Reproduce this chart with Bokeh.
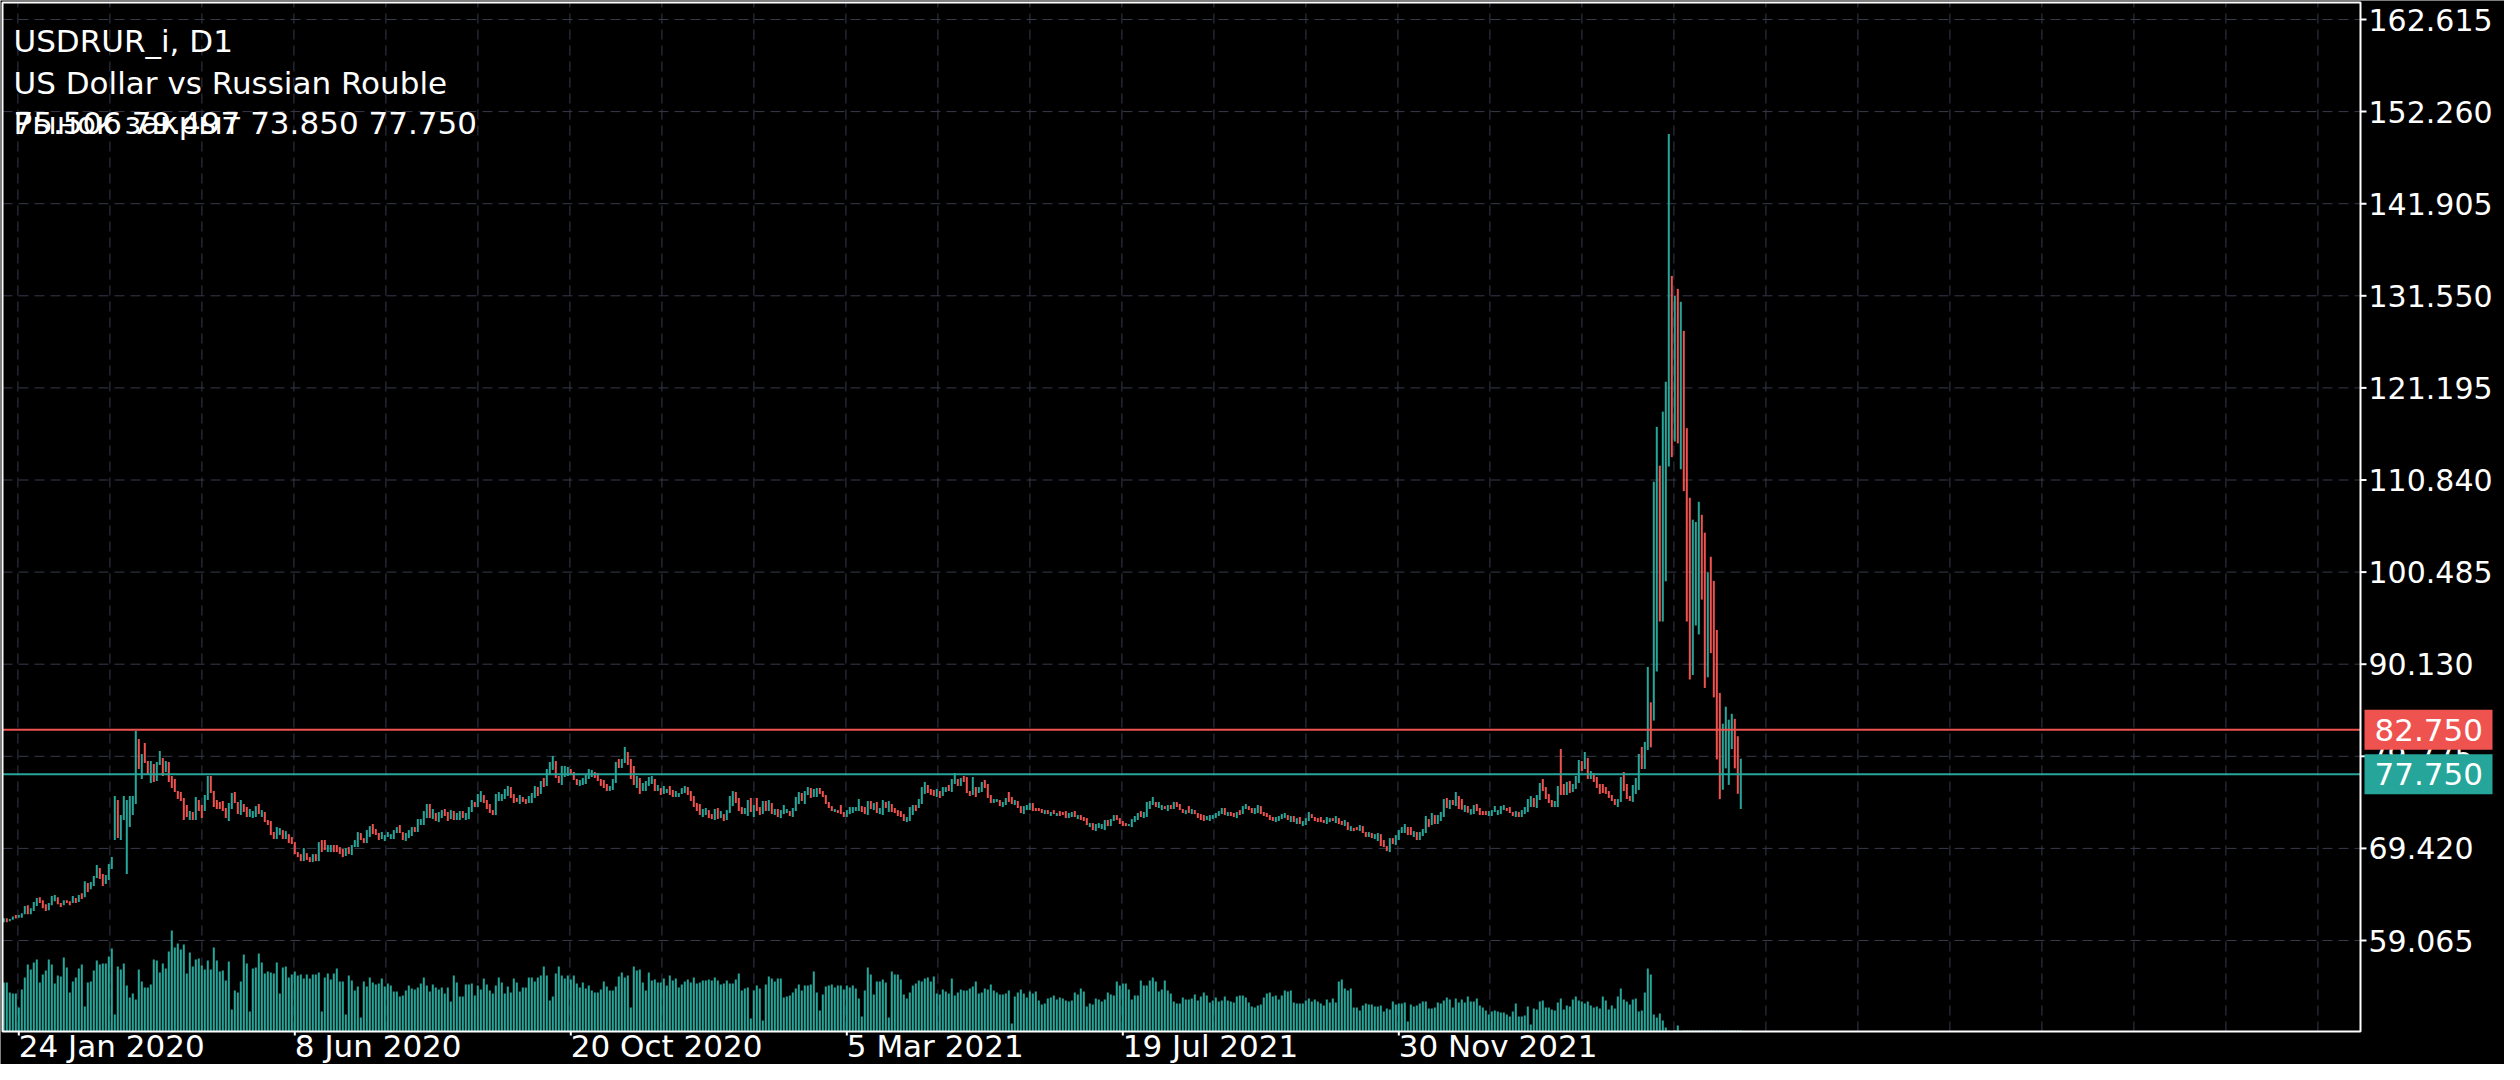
from bokeh.plotting import figure
from bokeh.models import ColumnDataSource, Range1d
from bokeh.core.properties import value
from bokeh.embed import file_html
from bokeh.resources import INLINE

# ---------------- data ----------------
symbol_title = "USDRUR_i, D1"
symbol_desc = "US Dollar vs Russian Rouble"
status_text = "Рынок закрыт"
ohlc_text = "75.506 79.497 73.850 77.750"

date_labels = ["24 Jan 2020", "8 Jun 2020", "20 Oct 2020", "5 Mar 2021", "19 Jul 2021", "30 Nov 2021"]
date_bars = [5, 97, 189, 281, 373, 465]
price_ticks = [59.065, 69.420, 79.775, 90.130, 100.485, 110.840, 121.195, 131.550, 141.905, 152.260, 162.615]
price_tick_labels = ["59.065", "69.420", "79.775", "90.130", "100.485", "110.840",
                     "121.195", "131.550", "141.905", "152.260", "162.615"]
ask_level = 82.750
bid_level = 77.750
level_labels = ["82.750", "77.750"]

opens = [
    61.13, 61.58, 61.24, 61.39, 61.92, 61.62, 61.62, 62.03, 63.04, 62.03,
    62.37, 62.93, 63.94, 63.60, 63.15, 62.48, 63.04, 63.49, 63.94, 63.27,
    63.04, 63.60, 63.49, 63.27, 63.83, 63.38, 64.39, 63.94, 65.52, 64.84,
    65.18, 66.08, 67.21, 66.53, 65.41, 65.86, 67.09, 70.36, 74.86, 70.36,
    72.61, 66.53, 71.82, 73.17, 74.41, 81.73, 77.22, 81.28, 79.25, 76.77,
    78.91, 77.00, 78.80, 79.59, 78.01, 79.14, 77.56, 77.22, 75.87, 75.76,
    75.09, 74.30, 72.61, 73.51, 72.61, 74.86, 74.30, 73.62, 74.86, 77.56,
    75.87, 74.86, 74.64, 74.75, 73.96, 72.50, 73.85, 75.76, 74.64, 73.17,
    74.41, 74.07, 72.95, 72.83, 72.95, 74.41, 72.95, 73.51, 72.61, 72.50,
    71.26, 70.47, 70.92, 71.48, 70.47, 71.03,
    70.70, 70.13, 69.01, 68.78, 67.99, 68.89, 68.44, 67.88, 68.78, 67.99,
    70.36, 70.36, 69.01, 69.01, 69.80, 69.80, 69.57, 69.35, 68.56, 69.57,
    68.67, 69.57, 69.57, 71.15, 70.58, 70.02, 70.70, 72.16, 71.60, 71.15,
    70.47, 70.25, 70.70, 70.47, 70.47, 71.15, 72.05, 71.26, 70.25, 70.58,
    70.81, 71.82, 71.26, 72.05, 72.05, 72.83, 74.41, 72.72, 73.40, 72.38,
    72.83, 73.85, 73.51, 72.72, 73.62, 72.61, 72.61, 73.62, 72.61, 72.72,
    73.51, 74.64, 74.07, 74.64, 75.42, 74.86, 74.41, 73.73, 73.17, 74.75,
    74.75, 74.97, 75.31, 76.32, 75.54, 75.09, 74.41, 75.20, 74.97, 74.52,
    74.52, 75.09, 76.32, 75.54, 77.34, 76.44, 77.67, 78.24, 79.25, 77.56,
    76.55, 77.45, 77.56, 78.35, 78.01,
    77.22, 76.44, 76.55, 76.66, 77.22, 77.45, 78.01, 77.90, 77.22, 77.11,
    76.66, 75.87, 75.99, 76.77, 79.47, 78.46, 79.02, 80.26, 79.47, 78.69,
    76.21, 77.34, 75.87, 75.87, 76.44, 76.66, 77.22, 75.87, 76.21, 75.54,
    75.65, 76.44, 75.99, 75.20, 75.20, 75.54, 75.65, 76.32, 75.87, 75.31,
    74.52, 74.41, 72.95, 73.17, 73.73, 73.28, 72.61, 73.96, 72.83, 73.28,
    72.61, 73.40, 74.18, 75.76, 75.09, 74.07, 73.28, 73.06, 75.09, 72.95,
    75.09, 74.07, 73.28, 74.75, 73.62, 74.52, 73.17, 73.85, 72.83, 73.28,
    73.40, 73.62, 72.95, 73.62, 74.41, 75.65, 74.41, 75.42, 76.21, 75.20,
    75.20, 76.21, 75.87, 75.42, 74.64, 74.18, 73.51, 73.73, 74.30, 73.51,
    72.95, 73.28, 73.40, 73.62, 73.62,
    74.18, 74.07, 73.17, 74.75, 73.73, 74.64, 73.28, 73.17, 74.64, 73.51,
    74.41, 73.96, 73.73, 73.62, 73.28, 72.38, 72.50, 73.17, 74.30, 73.96,
    74.41, 75.54, 76.55, 76.10, 75.99, 75.20, 75.87, 75.31, 75.76, 76.55,
    75.76, 76.66, 77.22, 76.44, 77.56, 77.45, 75.87, 75.42, 76.32, 75.65,
    75.76, 77.11, 76.66, 75.42, 74.52, 74.64, 74.86, 74.07, 74.30, 75.76,
    75.20, 74.30, 74.75, 74.18, 73.28, 73.73, 73.73, 74.52, 73.96, 73.96,
    73.85, 73.28, 73.73, 73.06, 73.73, 73.06, 73.62, 73.51, 73.62, 72.83,
    72.95, 73.62, 72.72, 73.17, 72.95, 72.83, 71.82, 72.27, 71.37, 71.71,
    71.60, 71.48, 72.61, 71.93, 72.50, 73.17, 72.83, 72.50, 72.27, 71.93,
    71.82, 72.38, 72.61, 73.62, 72.83,
    72.95, 73.85, 74.30, 74.64, 73.96, 73.73, 74.18, 73.62, 74.30, 73.85,
    74.64, 74.41, 73.85, 73.28, 74.18, 73.28, 73.73, 73.40, 73.28, 73.17,
    72.61, 72.50, 72.72, 72.83, 73.06, 73.28, 73.96, 73.06, 73.51, 73.40,
    72.83, 73.73, 73.28, 73.85, 74.18, 73.96, 73.28, 73.40, 74.18, 73.51,
    73.40, 73.17, 72.95, 72.38, 72.50, 72.72, 72.83, 73.17, 72.38, 73.06,
    72.16, 72.95, 71.93, 72.05, 72.50, 73.28, 72.95, 72.83, 72.95, 72.61,
    72.16, 72.38, 72.83, 72.27, 72.83, 72.50, 71.93, 72.38, 71.37, 71.71,
    71.82, 71.37, 71.93, 71.26, 70.70, 71.15, 70.47, 70.25, 71.03, 70.36,
    69.68, 69.01, 70.58, 69.80, 70.36, 71.15, 71.15, 71.82, 71.82, 70.70,
    71.26, 70.36, 70.81, 71.15, 72.72,
    72.05, 73.17, 72.16, 72.50, 72.95, 75.09, 73.85, 74.86, 74.19, 75.31,
    74.97, 73.51, 74.19, 73.21, 73.28, 74.41, 73.96, 73.62, 73.62, 73.06,
    73.06, 73.51, 73.17, 73.28, 73.73, 73.96, 74.07, 73.51, 72.95, 73.51,
    72.95, 73.28, 73.51, 74.07, 75.09, 73.96, 74.86, 77.22, 76.32, 75.54,
    74.86, 74.07, 74.07, 80.60, 76.66, 75.42, 77.00, 75.76, 76.10, 76.77,
    79.25, 78.35, 79.59, 77.22, 77.90, 77.45, 76.66, 76.66, 76.32, 75.87,
    75.42, 74.97, 74.07, 74.64, 78.01, 76.66, 75.31, 74.64, 75.54, 75.99,
    80.83, 78.35,
    80.48, 85.85, 83.79, 89.31, 112.45, 94.93, 99.45, 112.35, 133.79, 115.16,
    132.33, 112.05, 127.61, 116.67, 108.84, 88.91, 94.48, 93.48, 106.93, 104.92,
    88.66, 102.21, 99.50, 93.98, 86.90, 76.01, 78.42, 76.56, 80.58, 83.99,
    82.03, 73.85,
]

closes = [
    61.58, 61.13, 61.47, 61.77, 61.54, 61.92, 62.14, 62.93, 62.03, 62.70,
    63.38, 63.83, 63.27, 62.70, 62.37, 63.27, 64.06, 64.17, 63.15, 62.82,
    63.60, 63.27, 63.04, 64.06, 63.27, 64.17, 63.72, 65.74, 64.51, 65.63,
    66.31, 67.54, 65.97, 65.18, 66.42, 67.66, 68.44, 75.31, 70.58, 73.17,
    75.31, 74.86, 75.31, 75.31, 82.63, 78.35, 80.04, 79.02, 77.79, 79.25,
    76.89, 79.14, 80.38, 77.56, 79.25, 76.89, 76.21, 75.76, 74.97, 74.75,
    72.61, 72.95, 73.62, 72.61, 75.20, 73.62, 72.83, 75.42, 77.56, 75.65,
    74.07, 73.85, 73.85, 73.62, 72.83, 74.52, 75.65, 74.52, 73.28, 74.86,
    73.51, 72.95, 73.85, 73.62, 74.18, 73.28, 73.73, 72.38, 72.05, 70.92,
    70.47, 71.82, 71.71, 70.47, 71.37, 70.02,
    69.91, 68.78, 68.44, 67.99, 69.46, 68.11, 67.88, 68.78, 67.99, 70.13,
    69.01, 69.23, 69.80, 69.80, 69.01, 69.01, 68.78, 68.44, 69.46, 68.78,
    69.80, 70.36, 71.26, 70.36, 70.02, 71.48, 71.93, 71.03, 70.92, 70.36,
    71.26, 70.92, 71.26, 71.03, 71.48, 71.82, 71.15, 70.36, 71.15, 71.48,
    71.82, 71.26, 72.72, 72.72, 73.62, 74.41, 72.83, 73.85, 72.50, 73.51,
    73.73, 73.06, 72.50, 73.73, 72.61, 73.40, 73.62, 72.83, 73.40, 74.07,
    74.86, 74.07, 75.54, 75.87, 74.52, 73.85, 73.40, 73.17, 75.54, 75.76,
    75.54, 76.10, 76.44, 75.09, 74.52, 74.64, 75.42, 74.64, 74.41, 75.31,
    75.65, 76.44, 75.31, 77.00, 76.32, 78.35, 79.14, 79.81, 77.34, 76.77,
    78.69, 78.69, 78.57, 77.67, 77.11,
    76.55, 77.11, 77.34, 77.79, 78.35, 78.24, 77.34, 77.00, 76.44, 76.21,
    75.87, 76.44, 77.22, 79.14, 78.46, 79.47, 80.83, 78.80, 77.22, 76.55,
    77.56, 75.54, 76.77, 77.00, 77.45, 77.56, 75.87, 76.55, 75.42, 76.44,
    76.10, 75.42, 75.20, 75.87, 75.65, 76.21, 76.44, 75.42, 74.75, 74.07,
    73.62, 73.17, 73.85, 73.96, 72.83, 72.72, 73.85, 72.72, 73.62, 72.50,
    73.73, 75.31, 75.87, 74.52, 73.62, 73.28, 73.96, 74.86, 73.51, 74.30,
    73.62, 73.17, 74.75, 73.62, 74.86, 73.28, 73.85, 72.95, 73.73, 74.30,
    73.85, 73.06, 73.96, 75.20, 75.76, 74.75, 75.87, 76.32, 75.09, 76.10,
    76.21, 75.54, 75.20, 74.41, 73.96, 73.62, 73.85, 73.40, 73.28, 72.95,
    73.73, 74.07, 74.07, 74.07, 74.97,
    73.51, 73.28, 74.75, 73.85, 74.52, 73.40, 73.96, 74.86, 73.96, 74.75,
    73.51, 73.40, 73.06, 72.95, 72.50, 72.95, 74.07, 74.30, 73.62, 74.97,
    76.32, 76.89, 75.65, 75.42, 75.31, 76.10, 75.09, 76.32, 76.32, 75.87,
    77.22, 77.90, 76.44, 77.34, 76.89, 75.65, 75.31, 77.45, 75.20, 76.32,
    76.89, 76.21, 75.09, 74.52, 74.97, 74.97, 74.18, 74.64, 75.09, 74.64,
    74.41, 74.86, 73.96, 73.40, 74.18, 74.30, 74.52, 73.62, 73.62, 73.62,
    73.40, 73.73, 73.28, 73.51, 73.28, 73.40, 73.06, 73.17, 72.83, 73.40,
    73.51, 72.95, 73.17, 72.61, 72.50, 72.05, 72.27, 71.48, 72.16, 72.27,
    72.16, 72.61, 71.93, 72.72, 73.17, 72.61, 72.16, 71.93, 71.93, 72.16,
    72.72, 73.06, 73.40, 72.95, 73.51,
    74.64, 74.75, 75.20, 74.07, 74.64, 74.30, 73.85, 74.30, 73.85, 74.64,
    74.07, 73.73, 73.40, 73.73, 73.40, 73.85, 73.28, 72.83, 72.61, 72.50,
    73.06, 73.17, 73.17, 73.40, 73.62, 73.96, 73.17, 73.51, 73.06, 72.95,
    73.51, 73.17, 74.18, 74.41, 73.73, 73.40, 73.96, 74.30, 73.28, 73.06,
    72.95, 72.61, 72.50, 72.95, 73.06, 73.28, 73.40, 72.61, 73.06, 72.38,
    72.83, 72.16, 72.50, 72.83, 73.51, 72.83, 72.50, 72.38, 72.38, 72.27,
    72.95, 72.83, 72.50, 73.06, 72.16, 72.05, 72.61, 71.48, 71.93, 71.37,
    71.48, 72.05, 71.15, 70.70, 71.26, 70.58, 71.03, 71.15, 69.68, 69.57,
    69.12, 70.58, 69.91, 70.92, 71.48, 71.82, 72.16, 70.92, 70.92, 71.37,
    70.36, 71.26, 71.60, 73.06, 71.82,
    73.40, 72.16, 73.17, 73.51, 74.97, 73.96, 74.86, 74.30, 75.76, 73.85,
    73.77, 74.30, 73.43, 73.85, 74.30, 73.62, 73.17, 73.17, 73.17, 73.62,
    73.73, 74.19, 73.73, 74.19, 74.30, 73.62, 73.40, 73.06, 73.62, 72.95,
    73.73, 74.07, 74.97, 75.31, 74.07, 75.42, 76.77, 75.87, 74.97, 74.52,
    74.07, 74.75, 76.44, 75.42, 75.42, 76.89, 75.65, 76.66, 77.56, 79.36,
    78.12, 80.26, 77.22, 78.12, 76.89, 76.21, 75.54, 75.65, 75.54, 75.09,
    74.75, 74.30, 74.97, 77.45, 75.87, 74.97, 74.75, 76.55, 77.34, 80.04,
    78.35, 81.39,
    89.82, 80.78, 110.65, 116.82, 94.93, 118.53, 121.89, 149.75, 113.41, 131.53,
    114.96, 130.88, 109.59, 94.93, 88.41, 106.38, 106.13, 108.39, 97.39, 87.46,
    100.46, 91.37, 86.40, 79.42, 74.96, 83.44, 85.35, 83.89, 84.55, 78.42,
    75.56, 79.50,
]

volumes = [
    49, 49, 39, 38, 38, 24, 42, 54, 67, 62, 69, 72, 49, 57, 61, 72, 67, 48, 56, 55,
    74, 64, 39, 50, 54, 63, 67, 25, 49, 50, 61, 71, 67, 68, 68, 75, 83, 17, 65, 62,
    68, 46, 34, 38, 32, 62, 50, 44, 44, 47, 72, 71, 59, 68, 63, 80, 101, 84, 88, 82,
    87, 58, 79, 65, 72, 73, 66, 62, 71, 62, 84, 71, 60, 61, 51, 70, 22, 41, 39, 50,
    77, 68, 20, 63, 64, 78, 69, 58, 60, 59, 58, 69, 38, 64, 65, 54,
    57, 60, 56, 57, 53, 57, 53, 57, 57, 59, 20, 54, 58, 52, 58, 63, 50, 50, 17, 56,
    51, 41, 45, 14, 50, 45, 54, 49, 47, 48, 53, 45, 48, 46, 40, 40, 35, 36, 41, 46,
    43, 42, 44, 48, 54, 46, 40, 47, 44, 42, 44, 38, 44, 30, 56, 49, 35, 35, 47, 47,
    48, 36, 46, 42, 53, 47, 41, 38, 46, 54, 49, 38, 45, 39, 53, 49, 40, 44, 44, 54,
    54, 50, 54, 56, 65, 56, 31, 35, 58, 65, 56, 53, 56, 52, 56,
    48, 44, 49, 43, 46, 41, 39, 39, 42, 50, 45, 41, 41, 45, 55, 59, 54, 56, 24, 65,
    61, 62, 49, 41, 59, 51, 52, 49, 49, 53, 46, 56, 51, 53, 44, 47, 50, 52, 49, 54,
    48, 49, 51, 51, 52, 51, 54, 51, 47, 48, 51, 48, 48, 52, 58, 41, 43, 44, 13, 41,
    46, 43, 11, 47, 55, 53, 50, 53, 53, 34, 35, 36, 39, 43, 47, 41, 46, 46, 47, 60,
    39, 21, 37, 45, 46, 47, 44, 46, 46, 42, 46, 44, 46, 43, 33,
    15, 41, 64, 57, 37, 50, 50, 52, 49, 14, 60, 57, 57, 52, 37, 33, 39, 46, 48, 51,
    50, 53, 54, 50, 55, 38, 37, 42, 40, 38, 53, 36, 39, 42, 41, 41, 43, 45, 50, 38,
    39, 43, 42, 47, 41, 39, 37, 37, 38, 41, 8, 35, 39, 42, 38, 34, 40, 38, 40, 31,
    27, 28, 33, 34, 36, 32, 34, 33, 31, 30, 31, 39, 37, 43, 40, 25, 28, 27, 33, 32,
    30, 32, 39, 37, 36, 50, 46, 48, 48, 42, 32, 36, 36, 51, 46,
    46, 51, 54, 50, 40, 42, 51, 41, 38, 30, 28, 28, 34, 32, 32, 33, 37, 31, 35, 39,
    36, 29, 31, 34, 30, 31, 35, 31, 30, 29, 35, 36, 36, 34, 29, 25, 24, 26, 27, 34,
    38, 39, 35, 36, 32, 36, 41, 40, 41, 29, 28, 28, 28, 31, 33, 30, 32, 30, 28, 26,
    32, 29, 33, 29, 50, 52, 43, 41, 43, 24, 24, 21, 26, 28, 27, 27, 25, 25, 26, 20,
    23, 22, 30, 27, 28, 28, 29, 10, 27, 25, 26, 28, 30, 30, 23,
    23, 24, 29, 28, 31, 34, 32, 24, 33, 29, 32, 29, 35, 30, 30, 33, 26, 24, 21, 17,
    20, 21, 20, 19, 19, 17, 15, 20, 28, 15, 15, 16, 25, 7, 23, 22, 30, 31, 24, 24,
    22, 21, 29, 33, 22, 26, 25, 32, 35, 31, 30, 28, 30, 26, 24, 25, 23, 35, 31, 22,
    26, 23, 35, 43, 32, 30, 27, 32, 33, 20, 21, 39, 63, 57, 17, 14, 18, 11, 4, 1,
    0.5, 1, 6, 0.5, 1, 1, 1, 1, 1, 1, 1, 1, 1, 1, 1, 1, 1, 1, 1, 1,
    1, 1, 1, 1,
]

# ---------------- style / layout ----------------
TEAL = "#26a69a"
RED = "#ef5350"
GRID = "#363a4a"
FONT = value("DejaVu Sans")
W, H = 2504, 1064
BAR_PX = 3.0            # pixels per bar
BAR0_PX = 3.3           # pixel of bar 0
PX_PER_UNIT = 92.1 / 10.355
TOP_VAL, TOP_PX = 162.615, 19.0


def xpx(px):            # canvas pixel -> bar coordinate
    return (px - BAR0_PX) / BAR_PX


def ypx(py):            # canvas pixel -> price coordinate
    return TOP_VAL - (py - TOP_PX) / PX_PER_UNIT


def dy(px):
    return px / PX_PER_UNIT


def dx(px):
    return px / BAR_PX


# chart pane in data coordinates
CL, CR = xpx(2), xpx(2360)
CT, CB = ypx(2), ypx(1031)

p = figure(width=W, height=H,
           x_range=Range1d(xpx(0), xpx(W)), y_range=Range1d(ypx(H), ypx(0)),
           output_backend="svg", toolbar_location=None,
           background_fill_color="#000000", border_fill_color="#000000",
           min_border=0, outline_line_color=None)
p.axis.visible = False
p.grid.visible = False
# volume scale: one unit per pixel, zero at the pane bottom
p.extra_y_ranges = {"vol": Range1d(1031 - H, 1031)}

# grid
grid_x = [date_bars[0] - 0.3 + m * (92.0 / 3.0) for m in range(26)]
p.segment(x0=grid_x, x1=grid_x, y0=[CB] * len(grid_x), y1=[CT] * len(grid_x),
          line_color=GRID, line_width=1, line_dash="10 6")
p.segment(x0=[CL] * len(price_ticks), x1=[CR] * len(price_ticks), y0=price_ticks, y1=price_ticks,
          line_color=GRID, line_width=1, line_dash="10 6")

# volume
n = min(len(opens), len(closes))
idx = list(range(n))
vsrc = ColumnDataSource(dict(x=list(range(len(volumes))), top=volumes))
p.vbar(x="x", top="top", bottom=0, width=0.67, source=vsrc,
       fill_color=TEAL, line_color=None, y_range_name="vol")

# candles
src = ColumnDataSource(dict(
    x=idx,
    top=[max(opens[i], closes[i]) for i in idx],
    bottom=[min(opens[i], closes[i]) for i in idx],
    color=[TEAL if closes[i] >= opens[i] else RED for i in idx],
))
p.vbar(x="x", top="top", bottom="bottom", width=0.67, source=src,
       fill_color="color", line_color=None)

# price levels
p.segment(x0=[CL, CL], x1=[CR, CR], y0=[ask_level, bid_level], y1=[ask_level, bid_level],
          line_color=[RED, TEAL], line_width=2)

# pane border
p.quad(left=CL, right=CR, bottom=CB, top=CT, fill_color=None, line_color="white", line_width=2)

# price scale ticks and labels
p.segment(x0=[CR] * len(price_ticks), x1=[CR + dx(6)] * len(price_ticks),
          y0=price_ticks, y1=price_ticks, line_color="white", line_width=2)
p.text(x=[CR + dx(8)] * len(price_ticks), y=price_ticks, text=price_tick_labels,
       text_align="left", text_baseline="middle", text_color="white",
       text_font=FONT, text_font_size="30px")

# time scale ticks and labels
p.segment(x0=date_bars, x1=date_bars, y0=[CB] * len(date_bars), y1=[CB - dy(4)] * len(date_bars),
          line_color="white", line_width=2)
p.text(x=date_bars, y=[ypx(1045)] * len(date_bars), text=date_labels,
       text_align="left", text_baseline="middle", text_color="white",
       text_font=FONT, text_font_size="31px")

# price badges
levels = [ask_level, bid_level]
p.quad(left=[xpx(2364)] * 2, right=[xpx(2492)] * 2,
       bottom=[lv - dy(20) for lv in levels], top=[lv + dy(20) for lv in levels],
       fill_color=[RED, TEAL], line_color=None)
p.text(x=[xpx(2374)] * 2, y=levels, text=level_labels,
       text_align="left", text_baseline="middle", text_color="white",
       text_font=FONT, text_font_size="31px")

# header texts
p.text(x=[xpx(13)] * 4, y=[ypx(40), ypx(82), ypx(122), ypx(122)],
       text=[symbol_title, symbol_desc, status_text, ohlc_text],
       text_align="left", text_baseline="middle", text_color="white",
       text_font=FONT, text_font_size="31px")

html = file_html(p, INLINE)
html = html.replace("<body>", '<body style="background-color:#000000;">', 1)
open("out.html", "w").write(html)
